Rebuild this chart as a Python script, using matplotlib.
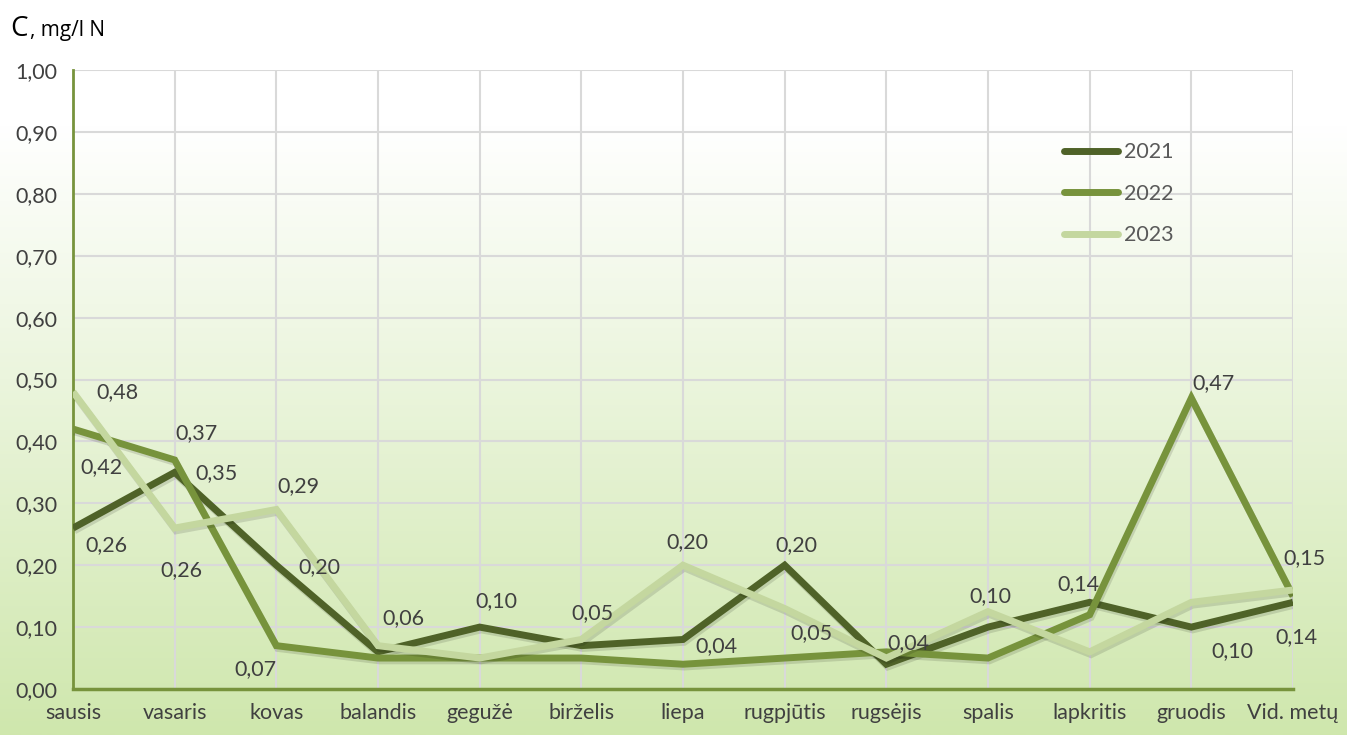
import numpy as np
import matplotlib
matplotlib.use("Agg")
import matplotlib.pyplot as plt
import matplotlib.patheffects as pe
from matplotlib.colors import LinearSegmentedColormap

categories = ["sausis", "vasaris", "kovas", "balandis", "gegužė", "birželis",
              "liepa", "rugpjūtis", "rugsėjis", "spalis", "lapkritis", "gruodis", "Vid. metų"]
series_names = ["2021", "2022", "2023"]
v2021 = [0.26, 0.35, 0.20, 0.06, 0.10, 0.07, 0.08, 0.20, 0.04, 0.10, 0.14, 0.10, 0.14]
v2022 = [0.42, 0.37, 0.07, 0.05, 0.05, 0.05, 0.04, 0.05, 0.06, 0.05, 0.12, 0.47, 0.15]
v2023 = [0.48, 0.26, 0.29, 0.07, 0.05, 0.08, 0.20, 0.13, 0.05, 0.125, 0.06, 0.14, 0.16]
yticks = [0.0, 0.1, 0.2, 0.3, 0.4, 0.5, 0.6, 0.7, 0.8, 0.9, 1.0]

# data labels: (series index, category index, dx px, dy px)
labels = [
    (2, 0, 44, 0), (1, 0, 28, -38), (0, 0, 33, -17),
    (1, 1, 22, 27), (0, 1, 42, -1), (2, 1, 7, -42),
    (2, 2, 22, 23), (0, 2, 43, -2), (1, 2, -21, -23),
    (0, 3, 25, 34), (0, 4, 17, 26), (1, 5, 11, 45),
    (2, 6, 4, 23), (1, 6, 33, 18), (0, 7, 12, 20), (1, 7, 27, 25),
    (0, 8, 22, 21), (0, 9, 2, 31), (0, 10, -11, 18),
    (1, 11, 22, 15), (0, 11, 41, -24), (1, 12, 11, 38), (0, 12, 3, -35),
]

colors = ["#4f6228", "#77933c", "#c4d79f"]
txt = "#404040"
font = ["Lato", "DejaVu Sans"]
plt.rcParams["font.family"] = font
FS = 15.5

W, H = 1347, 735
fig = plt.figure(figsize=(W / 100, H / 100), dpi=100)

# background gradient
bg = fig.add_axes([0, 0, 1, 1], zorder=-10)
bg.axis("off")
cmap = LinearSegmentedColormap.from_list("g", [(0, "#ffffff"), (0.17, "#ffffff"), (1, "#cfe7ad")])
grad = np.linspace(0, 1, 512).reshape(-1, 1)
bg.imshow(grad, aspect="auto", cmap=cmap, extent=[0, 1, 0, 1], origin="upper")

ax = fig.add_axes([73 / W, 1 - 689 / H, (1293 - 73) / W, (689 - 70) / H])
ax.set_facecolor("none")
x = np.arange(len(categories))
data = [v2021, v2022, v2023]
for vals, c, n in zip(data, colors, series_names):
    ax.plot(x, vals, color=c, lw=5, label=n, solid_joinstyle="miter", solid_capstyle="butt",
            path_effects=[pe.SimpleLineShadow(offset=(1, -2), shadow_color="#000000", alpha=0.12),
                          pe.Normal()], zorder=3)

for si, ci, dx, dy in labels:
    v = data[si][ci]
    ax.annotate(f"{v:.2f}".replace(".", ","), xy=(x[ci], v), xytext=(dx, dy),
                textcoords="offset pixels", ha="center", va="center",
                fontsize=FS, color=txt, zorder=5)

ax.set_xlim(0, len(categories) - 1)
ax.set_ylim(0, 1.0)
ax.set_yticks(yticks)
ax.set_yticklabels([f"{t:.2f}".replace(".", ",") for t in yticks])
ax.set_xticks(x)
ax.set_xticklabels(categories)
ax.tick_params(axis="both", length=0, labelsize=FS, labelcolor=txt)
ax.tick_params(axis="y", pad=11)
ax.tick_params(axis="x", pad=10)
ax.grid(True, color="#d9d9d9", lw=1.5, zorder=0)
ax.set_axisbelow(True)
for s in ["top", "right"]:
    ax.spines[s].set_visible(False)
ax.spines["left"].set_color("#77933c")
ax.spines["left"].set_linewidth(2)
ax.spines["bottom"].set_color("#77933c")
ax.spines["bottom"].set_linewidth(2.5)

leg = ax.legend(loc="upper left", bbox_to_anchor=(972 / 1220, 1 - 53 / 619), frameon=False,
                fontsize=FS, handlelength=2.5, handletextpad=0.25, labelspacing=1.0,
                labelcolor="#595959")
for line in leg.get_lines():
    line.set_solid_capstyle("round")
    line.set_path_effects([])

fig.text(10 / W, 1 - 36 / H, "C", fontsize=20, color="#000000", va="baseline", family=["Open Sans", "DejaVu Sans"])
fig.text(30 / W, 1 - 36 / H, ", mg/l N", fontsize=15, color="#000000", va="baseline", family=["Open Sans", "DejaVu Sans"])

fig.savefig("out.png", dpi=100)
